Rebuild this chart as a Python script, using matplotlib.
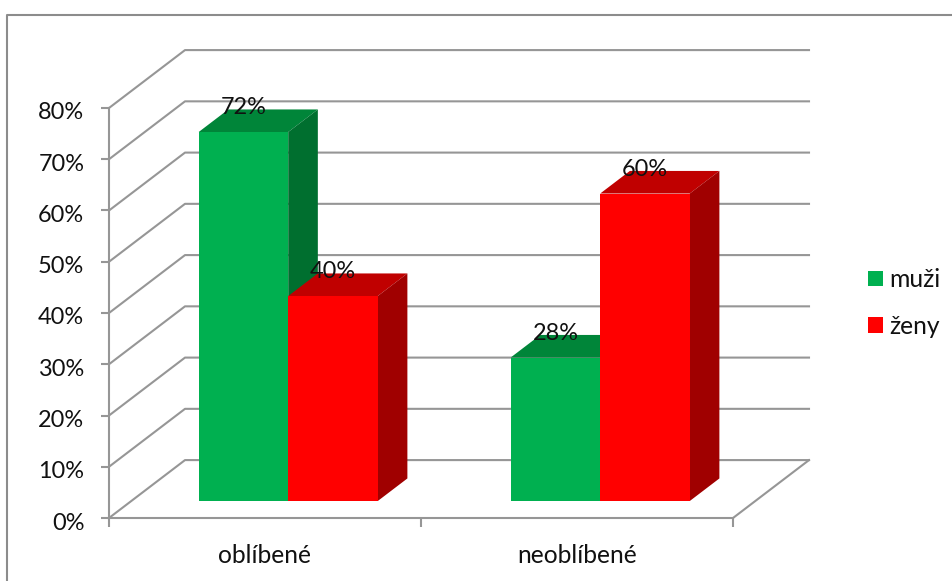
import matplotlib.pyplot as plt
from matplotlib.lines import Line2D
from matplotlib.patches import Patch, Polygon
from matplotlib.transforms import ScaledTranslation

plt.rcParams["font.family"] = ["Lato", "DejaVu Sans"]

categories = ["oblíbené", "neoblíbené"]
series_names = ["muži", "ženy"]
muzi = [72, 28]
zeny = [40, 60]
percent_ticks = [0, 10, 20, 30, 40, 50, 60, 70, 80]

GRID = "#969696"
LINE = 1.5
NUM_SIZE = 16.9
WORD_SIZE = 17.7

# face, top, side colours of the 3D columns
COLOURS = {
    "muži": ("#00B050", "#008539", "#006F2F"),
    "ženy": ("#FF0000", "#C00000", "#A00000"),
}

# one unit of depth moves a point this far along the x and y data axes
DEPTH_X = 76 / 312
DEPTH_Y = 11.3
BAR_WIDTH = 0.287
BAR_START = 0.216
BAR_FRONT = 0.293
BAR_DEPTH = 0.39


def project(x, y, depth):
    return x + depth * DEPTH_X, y + depth * DEPTH_Y


def draw_bar(ax, left, value, colours):
    face, top, side = colours
    right = left + BAR_WIDTH
    back = BAR_FRONT + BAR_DEPTH

    top_poly = [
        project(left, value, BAR_FRONT),
        project(right, value, BAR_FRONT),
        project(right, value, back),
        project(left, value, back),
    ]
    side_poly = [
        project(right, 0, BAR_FRONT),
        project(right, 0, back),
        project(right, value, back),
        project(right, value, BAR_FRONT),
    ]
    face_poly = [
        project(left, 0, BAR_FRONT),
        project(right, 0, BAR_FRONT),
        project(right, value, BAR_FRONT),
        project(left, value, BAR_FRONT),
    ]
    for points, colour in [(top_poly, top), (side_poly, side), (face_poly, face)]:
        ax.add_patch(Polygon(points, closed=True, facecolor=colour, edgecolor="none", zorder=3))

    # value label sits over the top face of the column
    x, y = project(left + BAR_WIDTH / 2, value, BAR_FRONT)
    ax.annotate(
        f"{value}%",
        (x, y),
        xytext=(0, 17.5),
        textcoords="offset points",
        ha="center",
        va="center",
        fontsize=NUM_SIZE,
        color="#111111",
        zorder=5,
    )


fig = plt.figure(figsize=(9.53, 5.81), dpi=100)
ax = fig.add_axes([109 / 953, 63 / 581, 624 / 953, 410 / 581])
ax.set_xlim(0, 2)
ax.set_ylim(0, 80)
ax.patch.set_visible(False)

for name in ["top", "right"]:
    ax.spines[name].set_visible(False)
for name in ["left", "bottom"]:
    ax.spines[name].set_color(GRID)
    ax.spines[name].set_linewidth(LINE)

ax.set_yticks(percent_ticks)
ax.set_yticklabels([f"{p}%" for p in percent_ticks])
ax.tick_params(axis="y", length=5.8, width=LINE, color=GRID, pad=12, labelsize=NUM_SIZE, labelcolor="#111111")
# percent labels sit a little below their ticks
nudge = ScaledTranslation(0, -3 / 100, fig.dpi_scale_trans)
for label in ax.get_yticklabels():
    label.set_transform(label.get_transform() + nudge)
ax.set_xticks([0, 1, 2])
ax.set_xticklabels([])
ax.tick_params(axis="x", length=6.5, width=LINE, color=GRID)
ax.set_xticks([0.5, 1.5], minor=True)
ax.set_xticklabels(categories, minor=True)
ax.tick_params(axis="x", which="minor", length=0, pad=19, labelsize=WORD_SIZE, labelcolor="#111111")

# side wall and back wall gridlines
for p in percent_ticks:
    corner = project(0, p, 1)
    end = project(2, p, 1)
    ax.plot([0, corner[0], end[0]], [p, corner[1], end[1]], color=GRID, lw=LINE, clip_on=False, zorder=1)

# right edge of the floor
floor_end = project(2, 0, 1)
ax.plot([2, floor_end[0]], [0, floor_end[1]], color=GRID, lw=LINE, clip_on=False, zorder=1)

for i in range(len(categories)):
    draw_bar(ax, i + BAR_START, muzi[i], COLOURS["muži"])
    draw_bar(ax, i + BAR_START + BAR_WIDTH, zeny[i], COLOURS["ženy"])

handles = [Patch(facecolor=COLOURS[name][0], edgecolor="none") for name in series_names]
fig.legend(
    handles,
    series_names,
    loc="center left",
    bbox_to_anchor=(868 / 953, 1 - 303 / 581),
    borderaxespad=0,
    borderpad=0,
    frameon=False,
    fontsize=WORD_SIZE,
    labelcolor="#111111",
    handlelength=0.6,
    handleheight=0.6,
    handletextpad=0.26,
    labelspacing=0.95,
)

# chart frame, open on the right and at the bottom
fig.add_artist(
    Line2D(
        [7.5 / 953, 7.5 / 953, 1],
        [0, 1 - 14.5 / 581, 1 - 14.5 / 581],
        color="#8c8c8c",
        lw=LINE,
    )
)

fig.savefig("out.png", dpi=100)
